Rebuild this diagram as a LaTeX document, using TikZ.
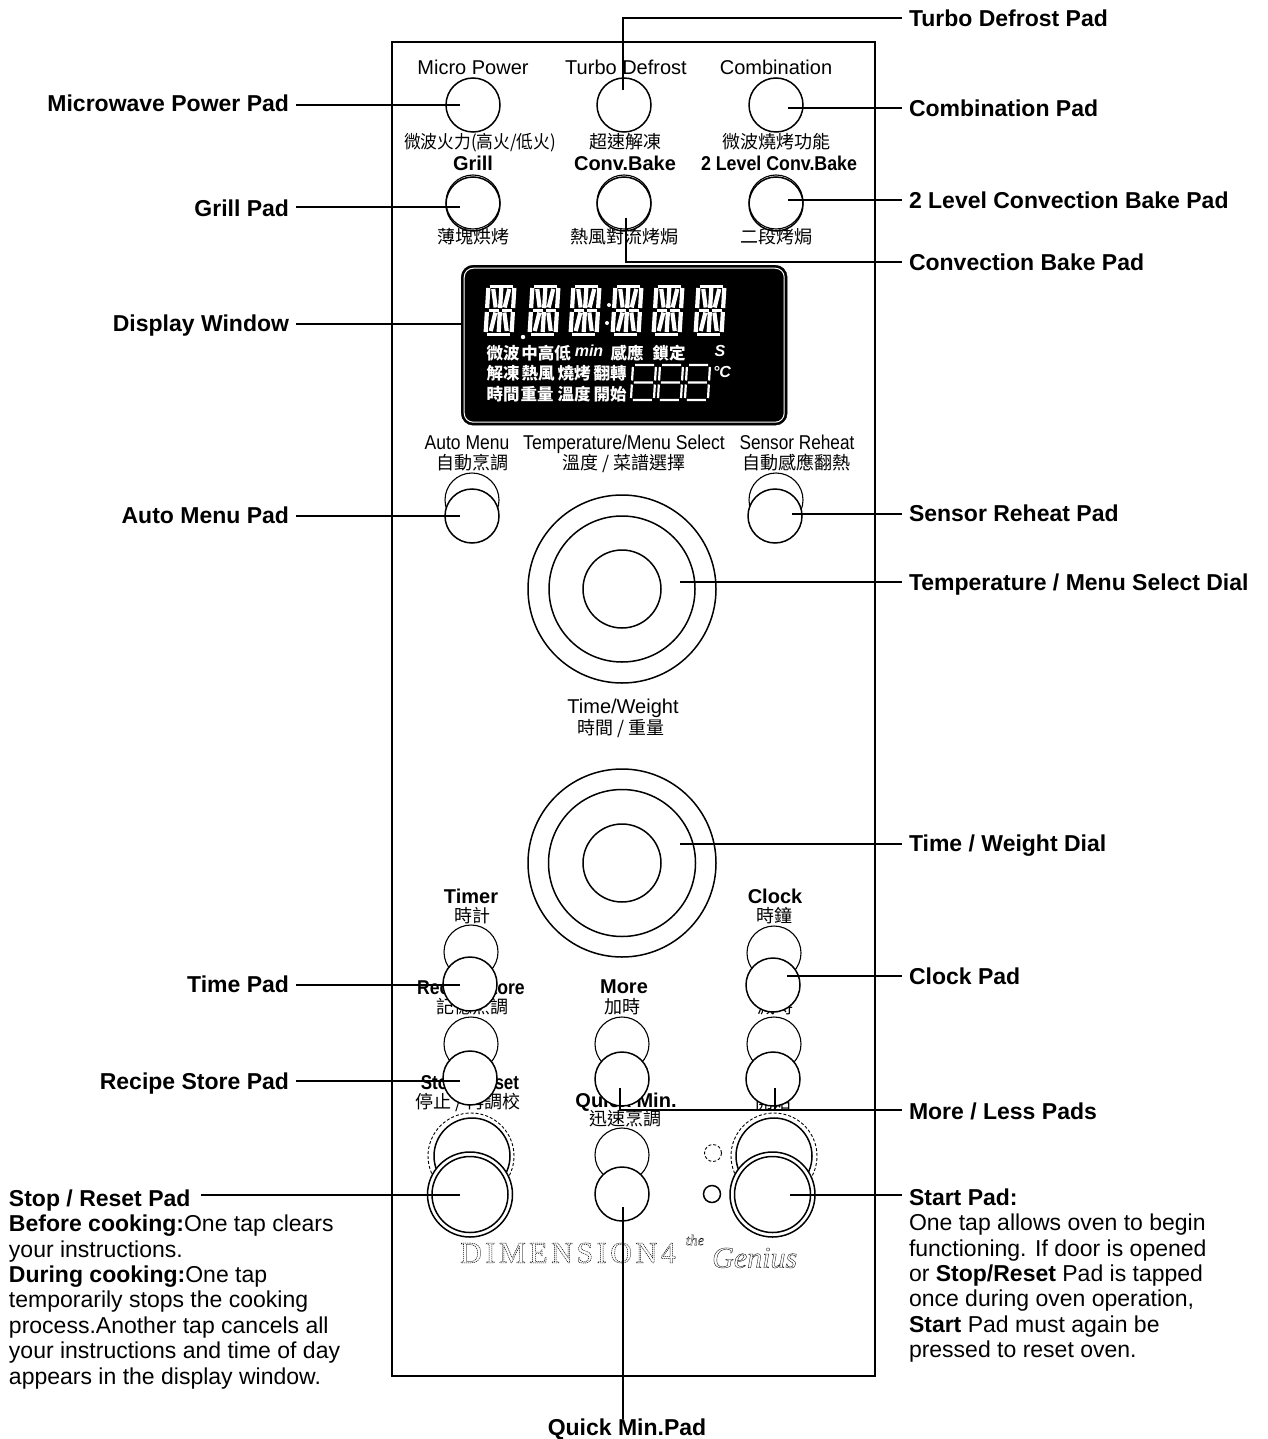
\documentclass[tikz,border=0pt]{standalone}
\usepackage{fontspec}
\usepackage{graphicx}
\setmainfont{Liberation Sans}
\newfontfamily\cjk{Noto Sans CJK TC}
\newfontfamily\logofont[LetterSpace=12]{Liberation Serif}
\newfontfamily\geniusfont{Liberation Serif}
\newcommand{\outlined}[2]{\special{pdf:code q 1 Tr #1}#2\special{pdf:code Q}}
\tikzset{
  px/.style={x=1pt,y=-1pt},
  callout/.style={font=\fontsize{23}{25.4}\selectfont\bfseries,inner sep=0pt,outer sep=0pt,text height=16.5pt,text depth=0pt},
  calloutR/.style={callout,anchor=west},
  calloutL/.style={callout,anchor=east},
  para/.style={font=\fontsize{23}{25.4}\selectfont,inner sep=0pt,outer sep=0pt,align=left,anchor=north west},
  en/.style={font=\fontsize{20}{22}\selectfont,inner sep=0pt,text height=14.5pt,text depth=0pt,anchor=center},
  enb/.style={en,font=\fontsize{20}{22}\selectfont\bfseries},
  zh/.style={font=\fontsize{18}{20}\cjk\selectfont,inner sep=0pt,text height=15.5pt,text depth=1pt,anchor=center},
  lcd/.style={font=\fontsize{16.5}{18}\cjk\bfseries\selectfont,text=white,inner sep=0pt,anchor=center},
  lcdl/.style={lcd,font=\fontsize{16}{18}\selectfont\itshape\bfseries},
  pad/.style={circle,draw=black,fill=white,line width=1.5pt,minimum size=54pt,inner sep=0pt},
  padback/.style={circle,draw=black,line width=1.1pt,minimum size=54pt,inner sep=0pt},
  ring/.style={circle,draw=black,line width=1.5pt,inner sep=0pt},
  halo/.style={circle,draw=black,line width=.9pt,densely dashed,inner sep=0pt},
  leader/.style={draw=black,line width=1.8pt},
  seg/.style={draw=white,line width=4.2pt},
  segh/.style={draw=white,line width=3pt},
  segthin/.style={draw=white,line width=2.2pt}
}
\newcommand{\alphaseg}[2]{%
  \begin{scope}[shift={(#1,#2)},xslant=.06]
    \draw[segh] (3,1)--(26,1) (3,49)--(26,49) (3,25)--(13,25) (16,25)--(26,25);
    \draw[seg] (1.5,3)--(1.5,23) (27.5,3)--(27.5,23) (1.5,27)--(1.5,47) (27.5,27)--(27.5,47)
      (14.5,3)--(14.5,23) (14.5,27)--(14.5,47)
      (6.5,4)--(10,22.5) (22.5,4)--(19,22.5) (10,27.5)--(6.5,46) (19,27.5)--(22.5,46);
  \end{scope}}
\newcommand{\sevenseg}[2]{%
  \begin{scope}[shift={(#1,#2)},xslant=.06]
    \draw[segthin] (2,0)--(21,0) (2,17.5)--(21,17.5) (2,35)--(21,35)
      (0,2)--(0,15.5) (23,2)--(23,15.5) (0,19.5)--(0,33) (23,19.5)--(23,33);
  \end{scope}}
\begin{document}
\begin{tikzpicture}[px]
\useasboundingbox (0,0) rectangle (1267,1439);
\fill[white] (0,0) rectangle (1267,1439);
\node[draw=black,line width=2.4pt,minimum width=483pt,minimum height=1334pt,inner sep=0pt,anchor=north west] (panel) at (391,41) {};

% upper panel labels
\node[en] (tMicro) at (473,67) {Micro Power};
\node[en] (tTurbo) at (626,67) {Turbo Defrost};
\node[en] (tCombi) at (776,67) {Combination};
\node[zh] (zMicro) at (480,141) {\scalebox{.93}[1]{微波火力(高火/低火)}};
\node[zh] (zTurbo) at (625,141) {超速解凍};
\node[zh] (zCombi) at (776,141) {微波燒烤功能};
\node[enb] (tGrill) at (473,163) {Grill};
\node[enb] (tConv) at (625,163) {Conv.Bake};
\node[enb] (tTwo) at (779,163) {\scalebox{.89}[1]{2 Level Conv.Bake}};
\node[zh] (zGrill) at (473,236) {薄塊烘烤};
\node[zh] (zConv) at (624,236) {熱風對流烤焗};
\node[zh] (zTwo) at (776,236) {二段烤焗};

% pads, rows one and two
\node[pad] (pMicro) at (473,105) {};
\node[pad] (pTurbo) at (624,105) {};
\node[pad] (pCombi) at (776,105) {};
\node[padback] (bGrill) at (473,202) {};
\node[padback] (bConv) at (624,202) {};
\node[padback] (bTwo) at (776,202) {};
\node[pad,fill=none] (pGrill) at (473,204) {};
\node[pad,fill=none] (pConv) at (624,204) {};
\node[pad,fill=none] (pTwo) at (776,204) {};

% display
\node[draw=black,fill=black,rounded corners=12pt,minimum width=326pt,minimum height=160pt,inner sep=0pt,anchor=north west] (lcdBox) at (461,265) {};
\node[draw=white,line width=1pt,rounded corners=9pt,minimum width=320pt,minimum height=154pt,inner sep=0pt] (lcdFrame) at (lcdBox.center) {};
\alphaseg{487}{285}\alphaseg{531}{285}\alphaseg{572}{285}\alphaseg{614}{285}\alphaseg{655}{285}\alphaseg{697}{285}
\fill[white] (523,337) circle (2.2) (609,305) circle (2) (607,323) circle (2);
\node[lcd] (l1a) at (503,353) {微波};
\node[lcd] (l1b) at (546,353) {中高低};
\node[lcdl] (l1c) at (589,351) {min};
\node[lcd] (l1d) at (627,353) {感應};
\node[lcd] (l1e) at (669,353) {鎖定};
\node[lcdl] (l1f) at (720,351) {S};
\node[lcd] (l2a) at (503,373) {解凍};
\node[lcd] (l2b) at (538,373) {熱風};
\node[lcd] (l2c) at (574,373) {燒烤};
\node[lcd] (l2d) at (610,373) {翻轉};
\node[lcd] (l3a) at (503,394) {時間};
\node[lcd] (l3b) at (537,394) {重量};
\node[lcd] (l3c) at (574,394) {溫度};
\node[lcd] (l3d) at (610,394) {開始};
\sevenseg{633}{365}\sevenseg{660}{365}\sevenseg{687}{365}
\node[lcdl] (lC) at (722,372) {°C};

% middle labels
\node[en] (tAuto) at (467,442) {\scalebox{.875}[1]{Auto Menu}};
\node[en] (tTemp) at (624,442) {\scalebox{.88}[1]{Temperature/Menu Select}};
\node[en] (tSens) at (797,442) {\scalebox{.86}[1]{Sensor Reheat}};
\node[zh] (zAuto) at (472,462) {自動烹調};
\node[zh] (zTemp) at (624,462) {溫度 / 菜譜選擇};
\node[zh] (zSens) at (796,462) {自動感應翻熱};
\node[padback] (bAuto) at (472,500) {};
\node[padback] (bSens) at (776,500) {};
\node[pad] (pAuto) at (472,516) {};
\node[pad] (pSens) at (775,516) {};

% dials
\node[ring,minimum size=188pt] (d1o) at (622,589) {};
\node[ring,minimum size=146pt] (d1m) at (622,589) {};
\node[ring,minimum size=78pt] (d1i) at (622,589) {};
\node[en] (tTW) at (623,706) {Time/Weight};
\node[zh] (zTW) at (621,727) {時間 / 重量};
\node[ring,minimum size=188pt] (d2o) at (622,863) {};
\node[ring,minimum size=147pt] (d2m) at (622,863) {};
\node[ring,minimum size=78pt] (d2i) at (622,863) {};

% lower labels
\node[enb] (tTimer) at (471,896) {Timer};
\node[zh] (zTimer) at (472,915) {時計};
\node[enb] (tClock) at (775,896) {Clock};
\node[zh] (zClock) at (774,915) {時鐘};
\node[enb] (tRecipe) at (471,987) {\scalebox{.88}[1]{Recipe Store}};
\node[zh] (zRecipe) at (472,1006) {記憶烹調};
\node[enb] (tMore) at (624,986) {More};
\node[zh] (zMore) at (622,1006) {加時};
\node[enb] (tLess) at (775,987) {Less};
\node[zh] (zLess) at (775,1006) {減時};
\node[enb] (tStop) at (470,1082) {\scalebox{.85}[1]{Stop / Reset}};
\node[zh] (zStop) at (468,1101) {停止 / 再調校};
\node[enb] (tQuick) at (626,1100) {Quick Min.};
\node[zh] (zQuick) at (625,1118) {迅速烹調};
\node[enb] (tStart) at (773,1082) {Start};
\node[zh] (zStart) at (773,1101) {開始};

% lower pads
\node[padback] (bTimer) at (471,952) {};
\node[padback] (bClock) at (774,953) {};
\node[pad] (pTimer) at (470,984) {};
\node[pad] (pClock) at (773,985) {};
\node[padback] (bRecipe) at (471,1044) {};
\node[padback] (bMore) at (622,1044) {};
\node[padback] (bLess) at (774,1044) {};
\node[pad] (pRecipe) at (470,1078) {};
\node[pad] (pMore) at (622,1079) {};
\node[pad] (pLess) at (773,1079) {};
\node[padback] (bQuick) at (622,1155) {};
\node[pad] (pQuick) at (622,1194) {};
\node[halo,minimum size=86pt] (hStop) at (471,1156) {};
\node[ring,minimum size=76pt] (bStop) at (472,1156) {};
\node[halo,minimum size=86pt] (hStart) at (774,1156) {};
\node[ring,minimum size=76pt] (bStart) at (774,1156) {};
\node[ring,fill=white,minimum size=85pt] (pStop) at (470,1194.5) {};
\node[ring,minimum size=76pt] (pStopIn) at (470,1194.5) {};
\node[ring,fill=white,minimum size=85pt] (pStart) at (772.5,1194.5) {};
\node[ring,minimum size=76pt] (pStartIn) at (772.5,1194.5) {};
\node[halo,minimum size=17pt] (ledBack) at (713,1153) {};
\node[ring,minimum size=17pt] (led) at (712,1194) {};

% logo
\node[font=\fontsize{30}{32}\logofont\selectfont,inner sep=0pt,anchor=west] (logo) at (460,1253) {\outlined{.5 w [1.2 .8] 0 d}{DIMENSION4}};
\node[font=\fontsize{15}{17}\geniusfont\itshape\selectfont,inner sep=0pt] (logoThe) at (695,1240) {\outlined{.25 w}{the}};
\node[font=\fontsize{30}{32}\geniusfont\itshape\selectfont,inner sep=0pt,anchor=west] (logoGenius) at (712,1258) {\outlined{.35 w}{Genius}};

% callouts right
\node[calloutR] (cTurbo) at (909,18) {Turbo Defrost Pad};
\node[calloutR] (cCombi) at (909,108) {Combination Pad};
\node[calloutR] (cTwo) at (909,200) {2 Level Convection Bake Pad};
\node[calloutR] (cConv) at (909,262) {Convection Bake Pad};
\node[calloutR] (cSens) at (909,513) {Sensor Reheat Pad};
\node[calloutR] (cTemp) at (909,582) {Temperature / Menu Select Dial};
\node[calloutR] (cTW) at (909,843) {Time / Weight Dial};
\node[calloutR] (cClock) at (909,976) {Clock Pad};
\node[calloutR] (cMoreLess) at (909,1111) {More / Less Pads};
\node[calloutR] (cStart) at (909,1197) {Start Pad:};
\node[para] (cStartText) at (909,1214) {One tap allows oven to begin\\functioning. If door is opened\\or \textbf{Stop/Reset} Pad is tapped\\once during oven operation,\\\textbf{Start} Pad must again be\\pressed to reset oven.};
% callouts left
\node[calloutL] (cMicro) at (289,103) {Microwave Power Pad};
\node[calloutL] (cGrill) at (289,208) {Grill Pad};
\node[calloutL] (cDisp) at (289,323) {Display Window};
\node[calloutL] (cAuto) at (289,515) {Auto Menu Pad};
\node[calloutL] (cTime) at (289,984) {Time Pad};
\node[calloutL] (cRecipe) at (289,1081) {Recipe Store Pad};
\node[callout,anchor=west] (cStop) at (9,1198) {Stop / Reset Pad};
\node[para] (cStopText) at (9,1215) {\textbf{Before cooking:}One tap clears\\your instructions.\\\textbf{During cooking:}One tap\\temporarily stops the cooking\\process.Another tap cancels all\\your instructions and time of day\\appears in the display window.};
\node[callout,anchor=center] (cQuick) at (627,1427) {Quick Min.Pad};

% leader ends
\coordinate (eTurbo) at (623,90);
\coordinate (kTurbo) at (623,18);
\coordinate (eMicro) at (460,105);
\coordinate (eCombi) at (788,108);
\coordinate (eGrill) at (460,207);
\coordinate (eTwo) at (788,200);
\coordinate (eConv) at (626,218);
\coordinate (kConv) at (626,262);
\coordinate (eDisp) at (461,324);
\coordinate (eAuto) at (460,516);
\coordinate (eSens) at (792,514);
\coordinate (eTemp) at (680,582);
\coordinate (eTW) at (680,844);
\coordinate (eTime) at (460,985);
\coordinate (eClock) at (787,976);
\coordinate (eRecipe) at (460,1081);
\coordinate (eMore) at (620,1088);
\coordinate (kMore) at (620,1110);
\coordinate (eLess) at (775,1088);
\coordinate (kLess) at (775,1110);
\coordinate (eStop) at (460,1195);
\coordinate (eStart) at (790,1195);
\coordinate (eQuick) at (623,1207);

\path[leader] (eTurbo) -- (kTurbo) -- ([xshift=-7pt]cTurbo.west |- kTurbo);
\path[leader] (eMicro) -- ([xshift=7pt]cMicro.east |- eMicro);
\path[leader] (eCombi) -- ([xshift=-7pt]cCombi.west |- eCombi);
\path[leader] (eGrill) -- ([xshift=7pt]cGrill.east |- eGrill);
\path[leader] (eTwo) -- ([xshift=-7pt]cTwo.west |- eTwo);
\path[leader] (eConv) -- (kConv) -- ([xshift=-7pt]cConv.west |- kConv);
\path[leader] (eDisp) -- ([xshift=7pt]cDisp.east |- eDisp);
\path[leader] (eAuto) -- ([xshift=7pt]cAuto.east |- eAuto);
\path[leader] (eSens) -- ([xshift=-7pt]cSens.west |- eSens);
\path[leader] (eTemp) -- ([xshift=-7pt]cTemp.west |- eTemp);
\path[leader] (eTW) -- ([xshift=-7pt]cTW.west |- eTW);
\path[leader] (eTime) -- ([xshift=7pt]cTime.east |- eTime);
\path[leader] (eClock) -- ([xshift=-7pt]cClock.west |- eClock);
\path[leader] (eRecipe) -- ([xshift=7pt]cRecipe.east |- eRecipe);
\path[leader] (eMore) -- (kMore) -- ([xshift=-7pt]cMoreLess.west |- kMore);
\path[leader] (eLess) -- (kLess);
\path[leader] (eStop) -- ([xshift=11pt]cStop.east |- eStop);
\path[leader] (eStart) -- ([xshift=-7pt]cStart.west |- eStart);
\path[leader] (eQuick) -- (cQuick.north -| eQuick);
\end{tikzpicture}
\end{document}
